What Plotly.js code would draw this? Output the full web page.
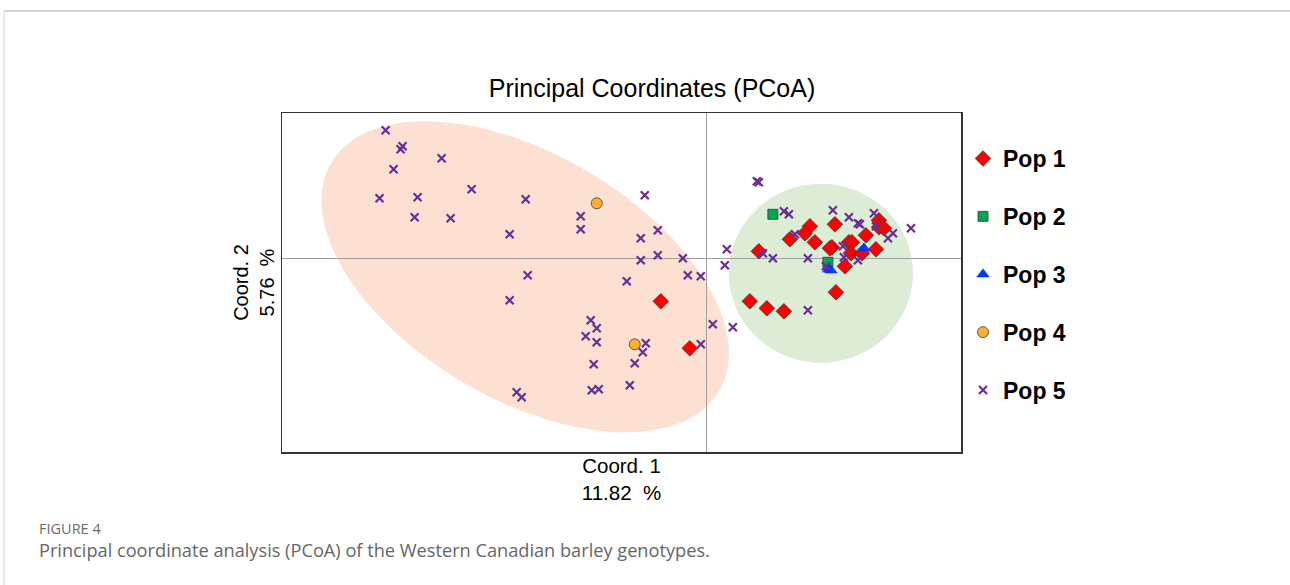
<!DOCTYPE html>
<html>
<head>
<meta charset="utf-8">
<script src="https://cdn.plot.ly/plotly-3.0.1.min.js"></script>
<style>
  html, body { margin: 0; padding: 0; background: #ffffff; }
  #chart { width: 1290px; height: 585px; }
</style>
</head>
<body>
<div id="chart"></div>
<script>
// ---- Data (Coord. 1, Coord. 2 in arbitrary PCoA units) ----
const pop1X = [10.3, 9.8, 8.3, 12.8, 10.8, 12.5, 12.3, 14.2, 14.5, 14.4, 15.5, 15.9, 16.9, 17.2, 17.2, 17.7, 5.2, 13.8, 12.9, 4.3, 6.0, 7.7, -4.6, -1.7];
const pop1Y = [3.2, 2.5, 1.9, 3.4, 1.6, 1.1, 1.0, 1.6, 1.6, 0.5, 0.5, 2.3, 0.9, 3.8, 3.1, 3.0, 0.7, -0.8, -3.4, -4.3, -5.0, -5.3, -4.3, -9.0];

const pop2X = [6.6, 12.1];
const pop2Y = [4.4, -0.4];

const pop3X = [12.2, 12.4, 15.7];
const pop3Y = [-1.1, -1.2, 1.0];

const pop4X = [-11.0, -7.2];
const pop4Y = [5.5, -8.6];

const pop5X = [-32.1, -30.4, -30.6, -26.5, -31.3, -23.5, -32.7, -28.9, -18.1, -6.2,
               -29.2, -25.6, -12.6, -12.6, -19.7, -6.6, -4.9, -6.6, -4.9, -2.4,
               -1.9, -0.6, -8.0, -17.9, -19.7, -11.6, -11.0, -12.1, -11.0, -6.1,
               -6.4, -0.6, -11.3, -7.2, 0.6, -19.0, -18.5, -11.5, -10.8, -7.7,
               5.0, 5.2, 7.7, 8.2, 12.6, 14.2, 15.1, 15.3, 16.7, 16.9,
               18.6, 18.1, 20.4, 8.8, 2.0, 5.6, 6.6, 1.8, 10.1, 13.6,
               13.7, 15.1, 11.9, 10.1, 2.6];
const pop5Y = [12.8, 11.2, 10.9, 10.0, 8.9, 6.9, 6.0, 6.1, 5.9, 6.3,
               4.1, 4.0, 4.2, 2.9, 2.4, 2.0, 2.8, -0.2, 0.3, 0.0,
               -1.7, -1.8, -2.3, -1.7, -4.2, -6.2, -7.0, -7.8, -8.4, -8.5,
               -9.4, -8.6, -10.6, -10.5, -6.6, -13.4, -13.9, -13.2, -13.1, -12.7,
               7.7, 7.6, 4.7, 4.4, 4.8, 4.1, 3.5, 3.4, 4.5, 3.2,
               2.5, 2.0, 3.0, 2.4, 0.9, 0.5, 0.0, -0.7, 0.0, 1.2,
               0.1, -0.2, -0.8, -5.2, -6.9];

const popNames = ["Pop 1", "Pop 2", "Pop 3", "Pop 4", "Pop 5"];

// Confidence ellipses: center, semi-axes, rotation (degrees)
const ellipseA = { cx: -18.15, cy: -1.85, a: 22.5, b: 12.25, angleDeg: -30.5 };
const ellipseB = { cx: 11.4, cy: -1.5, a: 9.2, b: 8.95, angleDeg: 0 };

const xTitle = "Coord. 1<br>11.82\u00a0\u00a0%";
const yTitle = "Coord. 2<br>5.76\u00a0\u00a0%";

// ---- Helpers ----
function ellipsePath(e) {
  const n = 120, t = e.angleDeg * Math.PI / 180;
  let d = "";
  for (let i = 0; i <= n; i++) {
    const u = 2 * Math.PI * i / n;
    const px = e.a * Math.cos(u), py = e.b * Math.sin(u);
    const x = e.cx + px * Math.cos(t) - py * Math.sin(t);
    const y = e.cy + px * Math.sin(t) + py * Math.cos(t);
    d += (i === 0 ? "M" : "L") + x.toFixed(3) + "," + y.toFixed(3);
  }
  return d + "Z";
}

const edge = { color: "#3a3a3a", width: 0.8 };

const traces = [
  { x: pop1X, y: pop1Y, name: popNames[0], legendgroup: "g1", type: "scatter", mode: "markers",
    marker: { symbol: "diamond", size: 12, color: "#ff0000", line: edge } },
  { x: pop2X, y: pop2Y, name: popNames[1], legendgroup: "g2", type: "scatter", mode: "markers",
    marker: { symbol: "square", size: 10, color: "#00a651", line: edge } },
  { x: pop3X, y: pop3Y, name: popNames[2], legendgroup: "g3", type: "scatter", mode: "markers",
    marker: { symbol: "triangle-up", size: 11, color: "#0038ff", line: { color: "#0038ff", width: 0.5 } } },
  { x: pop4X, y: pop4Y, name: popNames[3], legendgroup: "g4", type: "scatter", mode: "markers",
    marker: { symbol: "circle", size: 11, color: "#fbb034", line: edge } },
  { x: pop5X, y: pop5Y, name: popNames[4], legendgroup: "g5", type: "scatter", mode: "markers",
    marker: { symbol: "x-thin-open", size: 8, color: "#6a2c9a", line: { color: "#6a2c9a", width: 2.2 } } }
];

const L = 282, T = 113, W = 679, H = 339;
function px2paperX(p) { return (p - L) / W; }
function px2paperY(p) { return (T + H - p) / H; }

const layout = {
  width: 1290, height: 585,
  margin: { l: L, r: 1290 - L - W, t: T, b: 585 - T - H },
  paper_bgcolor: "#ffffff", plot_bgcolor: "rgba(0,0,0,0)",
  font: { family: "Liberation Sans, Arial, sans-serif", color: "#000000" },
  title: { text: "Principal Coordinates (PCoA)", font: { size: 25, color: "#000" },
           xref: "container", x: 652 / 1290, xanchor: "center",
           yref: "container", y: 1 - 88 / 585, yanchor: "middle" },
  xaxis: { range: [-42.45, 25.4], showgrid: false, showticklabels: false, ticks: "",
           zeroline: true, zerolinecolor: "#a0a0a0", zerolinewidth: 1,
           showline: true, mirror: true, linecolor: "#333333", linewidth: 1.5,
           title: { text: xTitle, font: { size: 20.5, color: "#000" }, standoff: 6 }, automargin: false },
  yaxis: { range: [-19.37, 14.53], showgrid: false, showticklabels: false, ticks: "",
           zeroline: true, zerolinecolor: "#a0a0a0", zerolinewidth: 1,
           showline: true, mirror: true, linecolor: "#333333", linewidth: 1.5,
           title: { text: yTitle, font: { size: 20, color: "#000" }, standoff: 0 }, automargin: false },
  showlegend: true,
  legend: { x: px2paperX(963), xanchor: "left", y: px2paperY(137), yanchor: "top",
            font: { size: 23, color: "#000", weight: "bold", family: "Liberation Sans, Arial, sans-serif" },
            traceorder: "grouped", tracegroupgap: 25, itemwidth: 30, bgcolor: "rgba(0,0,0,0)" },
  shapes: [
    { type: "path", path: ellipsePath(ellipseA), xref: "x", yref: "y", layer: "below",
      fillcolor: "#fce1d3", line: { width: 0 } },
    { type: "path", path: ellipsePath(ellipseB), xref: "x", yref: "y", layer: "below",
      fillcolor: "#ddecd4", line: { width: 0 } },
    { type: "line", xref: "paper", yref: "paper", x0: px2paperX(4), x1: px2paperX(1290),
      y0: px2paperY(11), y1: px2paperY(11), line: { color: "#d4d4d4", width: 2 } },
    { type: "line", xref: "paper", yref: "paper", x0: px2paperX(4), x1: px2paperX(4),
      y0: px2paperY(11), y1: px2paperY(585), line: { color: "#d4d4d4", width: 1 } }
  ],
  annotations: [
    { text: "FIGURE 4", xref: "paper", yref: "paper", x: px2paperX(37), y: px2paperY(528),
      xanchor: "left", yanchor: "middle", showarrow: false,
      font: { family: "Open Sans, sans-serif", size: 14.5, color: "#6b6b6b" } },
    { text: "Principal coordinate analysis (PCoA) of the Western Canadian barley genotypes.",
      xref: "paper", yref: "paper", x: px2paperX(37), y: px2paperY(550),
      xanchor: "left", yanchor: "middle", showarrow: false,
      font: { family: "Open Sans, sans-serif", size: 18.2, color: "#666666" } }
  ]
};

Plotly.newPlot("chart", traces, layout, { displayModeBar: false, staticPlot: true });
</script>
</body>
</html>
